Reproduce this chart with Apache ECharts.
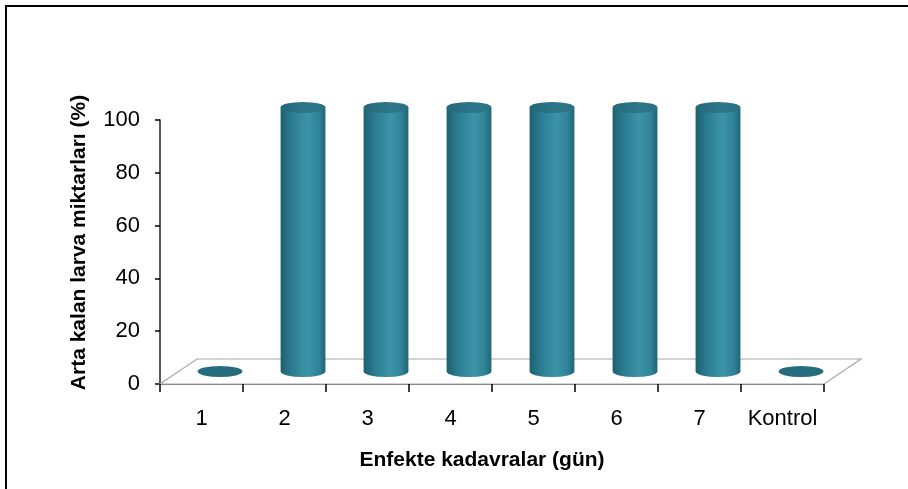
<!DOCTYPE html>
<html>
<head>
<meta charset="utf-8">
<script src="https://cdn.jsdelivr.net/npm/echarts@6/dist/echarts.min.js"></script>
<style>
  html, body { margin: 0; padding: 0; background: #fff; }
  #chart { width: 908px; height: 489px; }
</style>
</head>
<body>
<div id="chart"></div>
<script>
// Remaining larvae per infected-cadaver day
const categories = ['1', '2', '3', '4', '5', '6', '7', 'Kontrol'];
const values = [0, 100, 100, 100, 100, 100, 100, 0];
const yTicks = { min: 0, max: 100, interval: 20 };

const FONT = '"Liberation Sans", Arial, sans-serif';
// Pseudo-3D floor depth (pixels)
const DEPTH_X = 37, DEPTH_Y = -25;
const RY = 5.5;

const bodyGradient = {
  type: 'linear', x: 0, y: 0, x2: 1, y2: 0,
  colorStops: [
    { offset: 0, color: '#1e5f71' },
    { offset: 0.25, color: '#2b7c90' },
    { offset: 0.6, color: '#3c94a9' },
    { offset: 0.85, color: '#308398' },
    { offset: 1, color: '#206476' }
  ]
};
const topGradient = {
  type: 'linear', x: 0, y: 0, x2: 1, y2: 0,
  colorStops: [
    { offset: 0, color: '#24687a' },
    { offset: 0.6, color: '#2e778a' },
    { offset: 1, color: '#2a7083' }
  ]
};

function renderFloor(params, api) {
  const band = api.size([1, 0])[0];
  const first = api.coord([0, 0]);
  const last = api.coord([categories.length - 1, 0]);
  const x0 = first[0] - band / 2, x1 = last[0] + band / 2, y = first[1];
  return {
    type: 'polygon',
    shape: { points: [[x0, y], [x1, y], [x1 + DEPTH_X, y + DEPTH_Y], [x0 + DEPTH_X, y + DEPTH_Y]] },
    style: { fill: '#ffffff', stroke: '#a8a8a8', lineWidth: 1.2 }
  };
}

function renderCylinder(params, api) {
  const idx = api.value(0);
  const v = api.value(1);
  const base = api.coord([idx, 0]);
  const top = api.coord([idx, v]);
  const band = api.size([1, 0])[0];
  const rx = band * 0.27;
  const cx = base[0] + DEPTH_X / 2;
  const yb = base[1] + DEPTH_Y / 2;
  const yt = top[1] + DEPTH_Y / 2;
  if (v <= 0) {
    return {
      type: 'path',
      shape: {
        pathData: `M${cx - rx},${yb} A${rx},${RY} 0 1 0 ${cx + rx},${yb} A${rx},${RY} 0 1 0 ${cx - rx},${yb} Z`
      },
      style: { fill: '#266c7f' }
    };
  }
  return {
    type: 'group',
    children: [
      {
        type: 'path',
        shape: {
          pathData: `M${cx - rx},${yt} L${cx - rx},${yb} A${rx},${RY} 0 0 0 ${cx + rx},${yb} L${cx + rx},${yt} Z`
        },
        style: { fill: bodyGradient }
      },
      {
        type: 'path',
        shape: {
          pathData: `M${cx - rx},${yt} A${rx},${RY} 0 1 0 ${cx + rx},${yt} A${rx},${RY} 0 1 0 ${cx - rx},${yt} Z`
        },
        style: { fill: topGradient }
      }
    ]
  };
}

const chart = echarts.init(document.getElementById('chart'));
chart.setOption({
  animation: false,
  backgroundColor: '#ffffff',
  graphic: [{
    type: 'rect',
    shape: { x: 6, y: 6, width: 920, height: 520 },
    style: { fill: 'none', stroke: '#000', lineWidth: 2 },
    silent: true, z: 100
  }],
  grid: { left: 160, right: 84, top: 120, bottom: 105, containLabel: false },
  xAxis: {
    type: 'category',
    data: categories,
    boundaryGap: true,
    name: 'Enfekte kadavralar (gün)',
    nameLocation: 'middle',
    nameGap: 66,
    nameTextStyle: { fontFamily: FONT, fontSize: 21, fontWeight: 'bold', color: '#000', padding: [0, 20, 0, 0] },
    axisLine: { show: true, lineStyle: { color: '#8a8a8a', width: 1.2 } },
    axisTick: { show: true, interval: 0, length: 8, lineStyle: { color: '#000', width: 1.5 } },
    axisLabel: { interval: 0, margin: 24, fontFamily: FONT, fontSize: 22, color: '#000' },
    splitLine: { show: false },
    z: 10
  },
  yAxis: {
    type: 'value',
    min: yTicks.min, max: yTicks.max, interval: yTicks.interval,
    name: 'Arta kalan larva miktarları (%)',
    nameLocation: 'middle',
    nameGap: 70,
    nameRotate: 90,
    nameTextStyle: { fontFamily: FONT, fontSize: 21, fontWeight: 'bold', color: '#000', padding: [0, 0, 0, 19] },
    axisLine: { show: true, lineStyle: { color: '#222', width: 1.5 } },
    axisTick: { show: true, length: 5, lineStyle: { color: '#000', width: 1.5 } },
    axisLabel: { margin: 20, fontFamily: FONT, fontSize: 22, color: '#000' },
    splitLine: { show: false }
  },
  series: [
    {
      type: 'custom',
      renderItem: renderFloor,
      data: [[0, 0]],
      z: 1,
      silent: true
    },
    {
      type: 'custom',
      renderItem: renderCylinder,
      data: values.map((v, i) => [i, v]),
      encode: { x: 0, y: 1 },
      z: 5
    }
  ]
});
</script>
</body>
</html>
